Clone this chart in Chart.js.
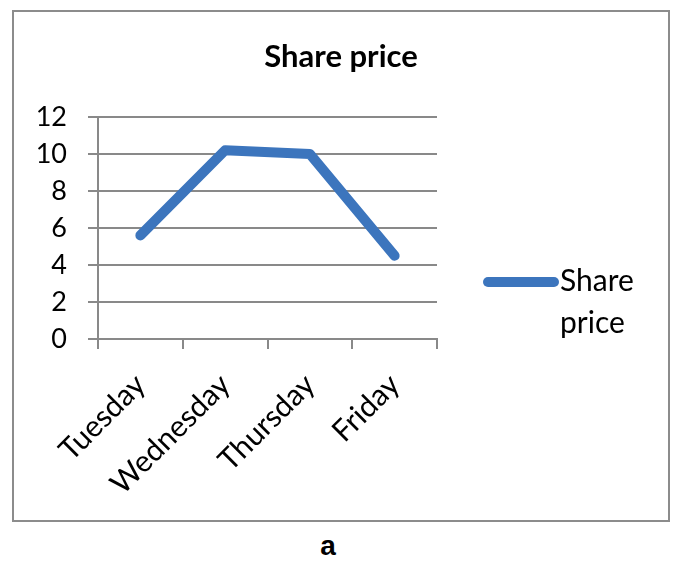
<!DOCTYPE html>
<html lang="en">
<head>
    <meta charset="UTF-8">
    <title>Share price</title>
    <script src="https://cdn.jsdelivr.net/npm/chart.js"></script>
    <style>
        body { margin: 0; background: #fff; width: 687px; height: 576px; position: relative; overflow: hidden; }
        .frame { position: absolute; left: 12px; top: 10px; width: 654px; height: 508px; border: 2px solid #8c8c8c; }
        .frame canvas { position: absolute; left: 0; top: 0; }
        .caption { position: absolute; left: 0; width: 656px; top: 530px; text-align: center; font: bold 28px 'Liberation Sans', Arial, sans-serif; color: #000; }
    </style>
</head>
<body>
    <div class="frame">
        <canvas id="chart" width="654" height="508"></canvas>
    </div>
    <div class="caption">a</div>
    <script>
        // data
        const days = ['Tuesday', 'Wednesday', 'Thursday', 'Friday'];
        const sharePrice = [5.6, 10.2, 10.0, 4.5];
        const yTicks = [0, 2, 4, 6, 8, 10, 12];

        const lineColor = '#3c75bd';
        const gridColor = '#898989';
        const font = "Lato, 'Open Sans', sans-serif";

        // title centred on the whole frame + legend on the right (label wrapped on two lines)
        const frameText = {
            id: 'frameText',
            afterDraw(chart) {
                const ctx = chart.ctx;
                const ds = chart.data.datasets[0];
                ctx.save();
                ctx.fillStyle = '#000';
                ctx.textBaseline = 'middle';
                ctx.textAlign = 'center';
                ctx.font = 'bold 31px ' + font;
                ctx.fillText(ds.label, chart.width / 2, 45);

                ctx.strokeStyle = ds.borderColor;
                ctx.lineWidth = 10;
                ctx.lineCap = 'round';
                ctx.beginPath();
                ctx.moveTo(474, 270);
                ctx.lineTo(540, 270);
                ctx.stroke();
                ctx.font = '30px ' + font;
                ctx.textAlign = 'left';
                ds.label.split(' ').forEach((w, i) => ctx.fillText(w, 546, 269 + i * 42));
                ctx.restore();
            }
        };

        new Chart(document.getElementById('chart'), {
            type: 'line',
            data: {
                labels: days,
                datasets: [{
                    label: 'Share price',
                    data: sharePrice,
                    borderColor: lineColor,
                    backgroundColor: lineColor,
                    borderWidth: 10,
                    borderCapStyle: 'round',
                    borderJoinStyle: 'round',
                    pointRadius: 0,
                    tension: 0
                }]
            },
            options: {
                responsive: false,
                animation: false,
                devicePixelRatio: 1,
                layout: { padding: { left: 0, right: 231, top: 105, bottom: 0 } },
                plugins: {
                    legend: { display: false },
                    tooltip: { enabled: false },
                    title: { display: false }
                },
                scales: {
                    x: {
                        offset: true,
                        grid: { offset: true, drawOnChartArea: false, drawTicks: true, tickLength: 10, color: gridColor, lineWidth: 2 },
                        border: { color: gridColor, width: 2 },
                        ticks: { color: '#000', font: { family: font, size: 30 }, minRotation: 45, maxRotation: 45, padding: 18 },
                        afterFit(scale) { scale.height = 181; }
                    },
                    y: {
                        min: 0,
                        max: 12,
                        afterBuildTicks(scale) { scale.ticks = yTicks.map(v => ({ value: v })); },
                        grid: { color: gridColor, lineWidth: 2, tickLength: 10 },
                        border: { color: gridColor, width: 2 },
                        ticks: { color: '#000', font: { family: font, size: 27 }, padding: 21 },
                        afterFit(scale) { scale.width = 84; }
                    }
                }
            },
            plugins: [frameText]
        });
    </script>
</body>
</html>
